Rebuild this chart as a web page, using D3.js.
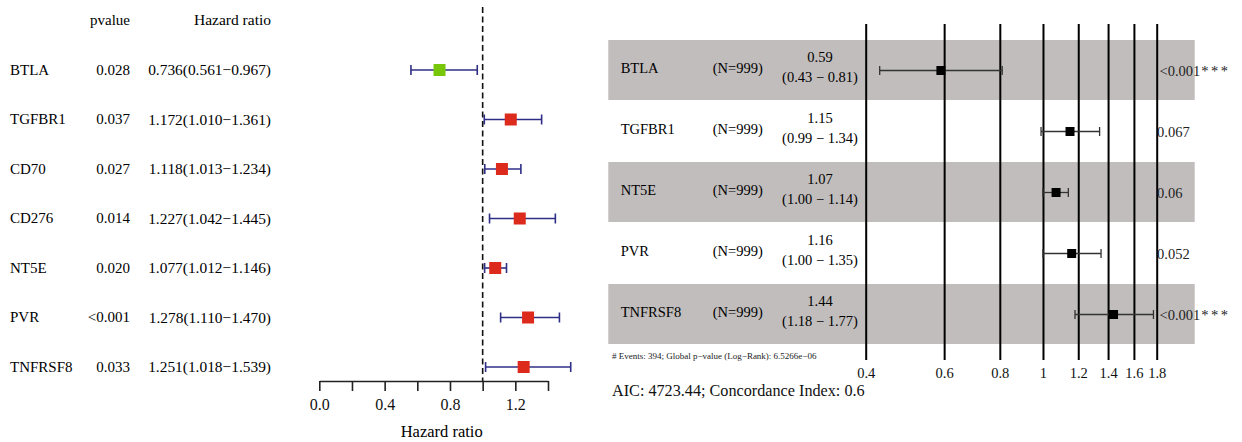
<!DOCTYPE html>
<html>
<head>
<meta charset="utf-8">
<script src="https://cdn.jsdelivr.net/npm/d3@7"></script>
<style>
  html, body { margin: 0; padding: 0; background: #fff; }
  svg { display: block; font-family: "Liberation Serif", "Times New Roman", serif; }
</style>
</head>
<body>
<svg id="chart" width="1242" height="442"></svg>
<script>
// ---- Univariate Cox results (left panel) ----
const uniGenes = ["BTLA", "TGFBR1", "CD70", "CD276", "NT5E", "PVR", "TNFRSF8"];
const uniP     = ["0.028", "0.037", "0.027", "0.014", "0.020", "<0.001", "0.033"];
const uniHR    = [0.736, 1.172, 1.118, 1.227, 1.077, 1.278, 1.251];
const uniLow   = [0.561, 1.010, 1.013, 1.042, 1.012, 1.110, 1.018];
const uniHigh  = [0.967, 1.361, 1.234, 1.445, 1.146, 1.470, 1.539];
const uniTicks = [0, 0.2, 0.4, 0.6, 0.8, 1.0, 1.2, 1.4];
const uniTickLabels = ["0.0", "", "0.4", "", "0.8", "", "1.2", ""];

// ---- Multivariate Cox results (right panel) ----
const multiGenes = ["BTLA", "TGFBR1", "NT5E", "PVR", "TNFRSF8"];
const multiN     = [999, 999, 999, 999, 999];
const multiHR    = [0.59, 1.15, 1.07, 1.16, 1.44];
const multiLow   = [0.43, 0.99, 1.00, 1.00, 1.18];
const multiHigh  = [0.81, 1.34, 1.14, 1.35, 1.77];
const multiP     = ["<0.001", "0.067", "0.06", "0.052", "<0.001"];
const multiStars = ["***", "", "", "", "***"];
const multiTicks = [0.4, 0.6, 0.8, 1, 1.2, 1.4, 1.6, 1.8];
const footnote = "# Events: 394; Global p\u2212value (Log\u2212Rank): 6.5266e\u221206";
const aicText = "AIC: 4723.44; Concordance Index: 0.6";

const fmt2 = d3.format(".2f");
const fmt3 = d3.format(".3f");
const serif = "Liberation Serif, Times New Roman, serif";

const svg = d3.select("#chart");

// ================= Left panel =================
const left = svg.append("g");
const yL = d3.scalePoint().domain(uniGenes).range([70, 367]);
const xL = d3.scaleLinear().domain([0, 1.4]).range([319.3, 548]);
const axisYL = 381;

left.append("text").attr("x", 130).attr("y", 20).attr("dy", "0.33em")
  .attr("text-anchor", "end").attr("font-size", 15).text("pvalue");
left.append("text").attr("x", 271).attr("y", 20).attr("dy", "0.33em")
  .attr("text-anchor", "end").attr("font-size", 15.5).text("Hazard ratio");

const rowsL = left.selectAll("g.row").data(uniGenes).join("g").attr("class", "row");
rowsL.append("text").attr("x", 10).attr("y", d => yL(d)).attr("dy", "0.33em")
  .attr("font-size", 15).text(d => d);
rowsL.append("text").attr("x", 130).attr("y", d => yL(d)).attr("dy", "0.33em")
  .attr("text-anchor", "end").attr("font-size", 15).text((d, i) => uniP[i]);
rowsL.append("text").attr("x", 271).attr("y", d => yL(d)).attr("dy", "0.33em")
  .attr("text-anchor", "end").attr("font-size", 15.4)
  .text((d, i) => `${fmt3(uniHR[i])}(${fmt3(uniLow[i])}\u2212${fmt3(uniHigh[i])})`);

// reference line at HR = 1
left.append("line")
  .attr("x1", xL(1)).attr("x2", xL(1)).attr("y1", 7).attr("y2", axisYL)
  .attr("stroke", "#111").attr("stroke-width", 1.6).attr("stroke-dasharray", "6,3.5");

// confidence intervals
const ciColor = "#2f2e86";
const capL = 5;
rowsL.append("line")
  .attr("x1", (d, i) => xL(uniLow[i])).attr("x2", (d, i) => xL(uniHigh[i]))
  .attr("y1", d => yL(d)).attr("y2", d => yL(d))
  .attr("stroke", ciColor).attr("stroke-width", 1.6);
rowsL.append("line")
  .attr("x1", (d, i) => xL(uniLow[i])).attr("x2", (d, i) => xL(uniLow[i]))
  .attr("y1", d => yL(d) - capL).attr("y2", d => yL(d) + capL)
  .attr("stroke", ciColor).attr("stroke-width", 1.6);
rowsL.append("line")
  .attr("x1", (d, i) => xL(uniHigh[i])).attr("x2", (d, i) => xL(uniHigh[i]))
  .attr("y1", d => yL(d) - capL).attr("y2", d => yL(d) + capL)
  .attr("stroke", ciColor).attr("stroke-width", 1.6);
const boxL = 12;
rowsL.append("rect")
  .attr("x", (d, i) => xL(uniHR[i]) - boxL / 2).attr("y", d => yL(d) - boxL / 2)
  .attr("width", boxL).attr("height", boxL)
  .attr("fill", (d, i) => uniHR[i] < 1 ? "#78c60a" : "#dc2a1c");

// x axis
const axL = left.append("g").attr("transform", `translate(0,${axisYL})`)
  .call(d3.axisBottom(xL).tickValues(uniTicks)
    .tickFormat((d, i) => uniTickLabels[i]).tickSizeInner(10).tickSizeOuter(0).tickPadding(8));
axL.select(".domain").attr("stroke", "#222").attr("stroke-width", 1.6);
axL.selectAll(".tick line").attr("stroke", "#222").attr("stroke-width", 1.6);
axL.selectAll(".tick text").attr("font-size", 16).attr("fill", "#111")
  .attr("font-family", serif);
left.append("text").attr("x", 441.7).attr("y", 432).attr("dy", "0.33em")
  .attr("text-anchor", "middle").attr("font-size", 16.5).text("Hazard ratio");

// ================= Right panel =================
const right = svg.append("g");
const rowH = 61;
const yR = d3.scalePoint().domain(multiGenes).range([70, 70 + rowH * 4]);
const xR = d3.scaleLog().domain([0.4, 1.8]).range([865.7, 1156.7]);

// alternating row shading
right.selectAll("rect.band").data(multiGenes.filter((d, i) => i % 2 === 0)).join("rect")
  .attr("class", "band")
  .attr("x", 608.3).attr("width", 1194.7 - 608.3)
  .attr("y", d => yR(d) - rowH / 2 + 0.5).attr("height", rowH - 1)
  .attr("fill", "#c1bdbc");

// vertical gridlines with tick labels
const linesTop = 24, linesBottom = 360;
const axR = right.append("g").attr("transform", `translate(0,${linesBottom})`)
  .call(d3.axisBottom(xR).tickValues(multiTicks).tickFormat(d3.format("~g"))
    .tickSizeInner(-(linesBottom - linesTop)).tickSizeOuter(0).tickPadding(8));
axR.select(".domain").remove();
axR.selectAll(".tick line").attr("stroke", "#000").attr("stroke-width", 2);
axR.selectAll(".tick text").attr("font-size", 14.5).attr("fill", "#111")
  .attr("y", 8).attr("font-family", serif);

const rowsR = right.selectAll("g.rrow").data(multiGenes).join("g").attr("class", "rrow");
rowsR.append("text").attr("x", 620.7).attr("y", d => yR(d) - 2).attr("dy", "0.33em")
  .attr("font-size", 14.5).text(d => d);
rowsR.append("text").attr("x", 712.7).attr("y", d => yR(d) - 2).attr("dy", "0.33em")
  .attr("font-size", 14.5).text((d, i) => `(N=${multiN[i]})`);
rowsR.append("text").attr("x", 820).attr("y", d => yR(d) - 12.5).attr("dy", "0.33em")
  .attr("text-anchor", "middle").attr("font-size", 14.5).text((d, i) => fmt2(multiHR[i]));
rowsR.append("text").attr("x", 820).attr("y", d => yR(d) + 7).attr("dy", "0.33em")
  .attr("text-anchor", "middle").attr("font-size", 14.5)
  .text((d, i) => `(${fmt2(multiLow[i])} \u2212 ${fmt2(multiHigh[i])})`);

// p-values with significance stars
const pText = rowsR.append("text")
  .attr("x", (d, i) => multiP[i].startsWith("<") ? 1159.5 : 1157)
  .attr("y", d => yR(d) + 1.5).attr("dy", "0.33em")
  .attr("font-size", 14.5).attr("fill", "#222");
pText.append("tspan").text((d, i) => multiP[i]);
pText.append("tspan").attr("letter-spacing", 2.5).attr("dx", 1)
  .text((d, i) => multiStars[i]);

// intervals and point estimates
const capR = 4.5;
const ciR = "#333";
rowsR.append("line")
  .attr("x1", (d, i) => xR(multiLow[i])).attr("x2", (d, i) => xR(multiHigh[i]))
  .attr("y1", d => yR(d) + 0.5).attr("y2", d => yR(d) + 0.5)
  .attr("stroke", ciR).attr("stroke-width", 1.3);
rowsR.append("line")
  .attr("x1", (d, i) => xR(multiLow[i])).attr("x2", (d, i) => xR(multiLow[i]))
  .attr("y1", d => yR(d) + 0.5 - capR).attr("y2", d => yR(d) + 0.5 + capR)
  .attr("stroke", ciR).attr("stroke-width", 1.3);
rowsR.append("line")
  .attr("x1", (d, i) => xR(multiHigh[i])).attr("x2", (d, i) => xR(multiHigh[i]))
  .attr("y1", d => yR(d) + 0.5 - capR).attr("y2", d => yR(d) + 0.5 + capR)
  .attr("stroke", ciR).attr("stroke-width", 1.3);
const boxR = 9;
rowsR.append("rect")
  .attr("x", (d, i) => xR(multiHR[i]) - boxR / 2).attr("y", d => yR(d) + 0.5 - boxR / 2)
  .attr("width", boxR).attr("height", boxR).attr("fill", "#000");

right.append("text").attr("x", 612).attr("y", 356).attr("dy", "0.33em")
  .attr("font-size", 9).attr("fill", "#222").text(footnote);
right.append("text").attr("x", 612).attr("y", 391).attr("dy", "0.33em")
  .attr("font-size", 16.2).attr("fill", "#111").text(aicText);
</script>
</body>
</html>
